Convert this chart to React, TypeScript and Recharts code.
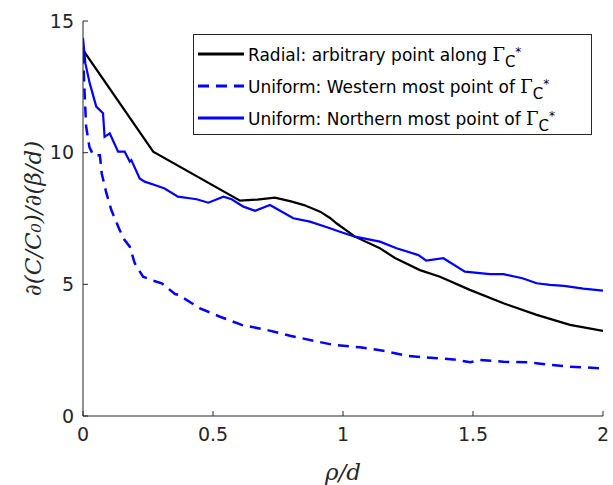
import { LineChart, Line, XAxis, YAxis, Legend } from "recharts"

// Radial: arbitrary point along Gamma_C*
const radialX = [0, 0.27, 0.604, 0.67, 0.738, 0.8, 0.85, 0.912, 0.95, 0.976, 1.046, 1.142, 1.2, 1.296, 1.373, 1.488, 1.617, 1.745, 1.873, 2.0]
const radialY = [13.9, 10.04, 8.18, 8.22, 8.29, 8.15, 8.01, 7.76, 7.52, 7.31, 6.81, 6.37, 6.0, 5.54, 5.29, 4.79, 4.28, 3.84, 3.46, 3.23]

// Uniform: Western most point
const westX = [0, 0.006, 0.012, 0.025, 0.04, 0.065, 0.072, 0.09, 0.109, 0.141, 0.16, 0.18, 0.199, 0.231, 0.27, 0.303, 0.354, 0.367, 0.45, 0.527, 0.61, 0.706, 0.796, 0.886, 0.963, 1.065, 1.155, 1.245, 1.335, 1.424, 1.49, 1.527, 1.617, 1.71, 1.796, 1.873, 2.0]
const westY = [13.8, 12.3, 11.0, 10.2, 9.9, 9.9, 9.21, 8.46, 7.82, 7.06, 6.68, 6.43, 5.8, 5.29, 5.14, 5.04, 4.63, 4.6, 4.09, 3.77, 3.46, 3.27, 3.05, 2.86, 2.7, 2.61, 2.48, 2.29, 2.21, 2.15, 2.04, 2.13, 2.06, 2.04, 1.94, 1.87, 1.81]

// Uniform: Northern most point
const northX = [0, 0.009, 0.026, 0.051, 0.077, 0.083, 0.103, 0.135, 0.16, 0.18, 0.186, 0.218, 0.237, 0.276, 0.314, 0.365, 0.417, 0.437, 0.482, 0.54, 0.572, 0.617, 0.662, 0.719, 0.809, 0.873, 0.95, 0.988, 1.046, 1.142, 1.206, 1.29, 1.32, 1.386, 1.469, 1.565, 1.617, 1.69, 1.745, 1.796, 1.85, 1.924, 2.0]
const northY = [14.35, 13.4, 12.63, 11.75, 11.5, 10.6, 10.73, 10.04, 10.04, 9.66, 9.72, 9.02, 8.9, 8.77, 8.64, 8.33, 8.26, 8.23, 8.1, 8.33, 8.23, 7.95, 7.79, 8.01, 7.51, 7.38, 7.13, 7.0, 6.81, 6.62, 6.37, 6.11, 5.9, 5.99, 5.48, 5.39, 5.39, 5.23, 5.04, 4.98, 4.94, 4.84, 4.76]

const xTicks = [0, 0.5, 1, 1.5, 2]
const yTicks = [0, 5, 10, 15]

const toPoints = (xs: number[], ys: number[]) => xs.map((x, i) => ({ x, y: ys[i] }))

const radial = toPoints(radialX, radialY)
const west = toPoints(westX, westY)
const north = toPoints(northX, northY)

const legendRows = [
  { label: "Radial: arbitrary point along", color: "#000000", dash: undefined },
  { label: "Uniform: Western most point of", color: "#0000ff", dash: "11 7" },
  { label: "Uniform: Northern most point of", color: "#0000ff", dash: undefined },
]

const axisColor = "#262626"
const tickFont = { fontFamily: "DejaVu Sans", fontSize: 19, fill: axisColor }

function LegendBox() {
  return (
    <div
      style={{
        border: "1px solid #262626",
        background: "#fff",
        boxSizing: "border-box",
        width: 399,
        height: 101,
        padding: "3px 0 0 3px",
        fontFamily: "DejaVu Sans",
        fontSize: 17,
        color: "#000",
      }}
    >
      {legendRows.map((r) => (
        <div key={r.label} style={{ display: "flex", alignItems: "center", height: 32 }}>
          <svg width={48} height={10} style={{ marginRight: 3 }}>
            <line x1={1} y1={5} x2={47} y2={5} stroke={r.color} strokeWidth={3} strokeDasharray={r.dash} />
          </svg>
          <span style={{ whiteSpace: "nowrap" }}>
            {r.label}{" "}
            <span style={{ fontFamily: "DejaVu Serif", fontSize: 18 }}>Γ</span>
            <span style={{ fontSize: 15, position: "relative", top: 6 }}>C</span>
            <span style={{ fontSize: 12, position: "relative", top: -5 }}>*</span>
          </span>
        </div>
      ))}
    </div>
  )
}

export default function App() {
  return (
    <div style={{ position: "absolute", left: 0, top: 0, background: "#fff" }}>
      <LineChart width={613} height={485} margin={{ top: 21, right: 10, bottom: 0, left: 0 }}>
        <XAxis
          type="number"
          dataKey="x"
          domain={[0, 2]}
          ticks={xTicks}
          height={69}
          allowDataOverflow
          stroke={axisColor}
          tickSize={-5}
          tickMargin={17}
          tick={tickFont}
          label={{
            value: "ρ/d",
            position: "insideBottom",
            offset: 5,
            style: { fontFamily: "DejaVu Serif", fontStyle: "italic", fontSize: 23, fill: axisColor },
          }}
        />
        <YAxis
          type="number"
          dataKey="y"
          domain={[0, 15]}
          ticks={yTicks}
          width={83}
          allowDataOverflow
          stroke={axisColor}
          tickSize={-5}
          tickMargin={14}
          tick={tickFont}
          label={{
            value: "∂(C/C₀)/∂(β/d)",
            angle: -90,
            position: "insideLeft",
            offset: 33,
            style: { fontFamily: "DejaVu Serif", fontStyle: "italic", fontSize: 23, fill: axisColor, textAnchor: "middle" },
          }}
        />
        <Legend
          layout="horizontal"
          verticalAlign="middle"
          content={() => <LegendBox />}
          wrapperStyle={{ position: "absolute", left: 193, top: 34, width: 399, height: 101 }}
        />
        <Line data={radial} dataKey="y" stroke="#000000" strokeWidth={2.2} dot={false} isAnimationActive={false} />
        <Line data={west} dataKey="y" stroke="#0000ff" strokeWidth={2.5} strokeDasharray="11 7" dot={false} isAnimationActive={false} />
        <Line data={north} dataKey="y" stroke="#0000ff" strokeWidth={2.2} dot={false} isAnimationActive={false} />
      </LineChart>
    </div>
  )
}
